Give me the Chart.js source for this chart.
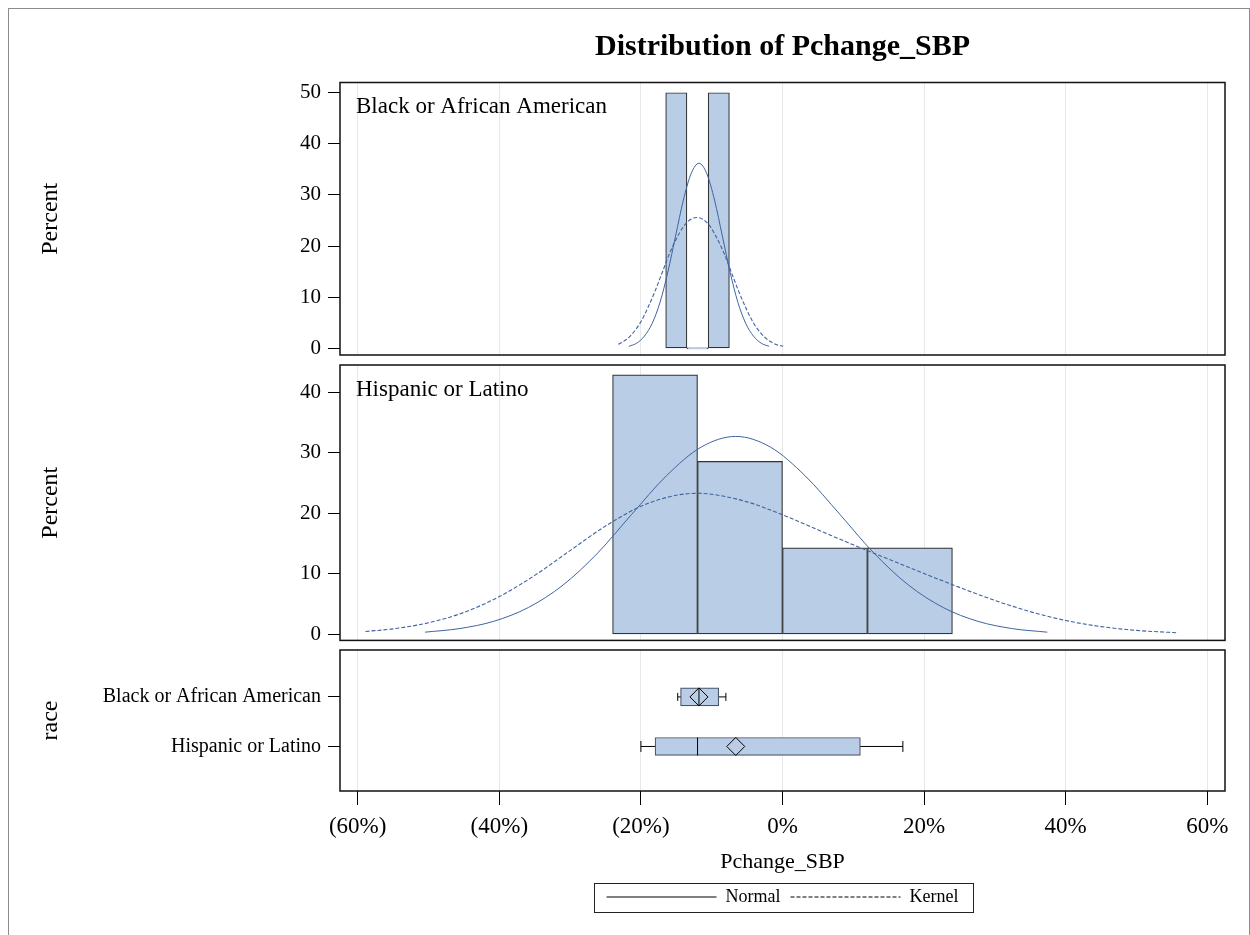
<!DOCTYPE html>
<html><head><meta charset="utf-8">
<script src="https://cdn.jsdelivr.net/npm/chart.js@4.4.1/dist/chart.umd.min.js"></script>
<style>
html,body{margin:0;padding:0;background:#fff;}
#page{position:relative;width:1250px;height:935px;overflow:hidden;background:#fff;}
#border{position:absolute;left:8px;top:8px;width:1240px;height:960px;border:1px solid #8c8c8c;}
canvas{position:absolute;left:0;}
</style></head><body>
<div id="page">
<div id="border"></div>
<canvas id="c1" width="1250" height="380" style="top:0px"></canvas>
<canvas id="c2" width="1250" height="320" style="top:340px"></canvas>
<canvas id="c3" width="1250" height="305" style="top:630px"></canvas>
</div>
<script>
// ---------- data ----------
const chartTitle = 'Distribution of Pchange_SBP';
const xAxisTitle = 'Pchange_SBP';
const yAxisTitle = 'Percent';
const boxAxisTitle = 'race';
const xTickValues = [-60, -40, -20, 0, 20, 40, 60];
const xTickLabels = ['(60%)', '(40%)', '(20%)', '0%', '20%', '40%', '60%'];
const raceCategories = ['Black or African American', 'Hispanic or Latino'];
const legendLabels = ['Normal', 'Kernel'];

// Black or African American histogram (bin width 3%)
const blackBinCenters = [-15, -12, -9];
const blackBinPercents = [50, 0, 50];
const blackYTicks = [0, 10, 20, 30, 40, 50];
const blackNormalX = [-21.7, -20.6, -19.5, -18.4, -17.3, -16.2, -15.1, -14.0, -12.9, -11.8, -10.7, -9.6, -8.5, -7.4, -6.3, -5.2, -4.1, -3.0, -1.9];
const blackNormalY = [0.4, 1.0, 2.4, 4.9, 9.0, 14.9, 22.0, 29.0, 34.2, 36.2, 34.2, 29.0, 22.0, 14.9, 9.0, 4.9, 2.4, 1.0, 0.4];
const blackKernelX = [-23.2, -22, -21, -20, -19, -18, -17, -16, -15, -14, -13, -12.1, -11.2, -10.2, -9.2, -8.2, -7.2, -6.2, -5.2, -4.2, -3.2, -2.2, -1.0, 0.1];
const blackKernelY = [0.8, 1.8, 3.2, 5.2, 8.0, 11.2, 14.8, 18.4, 21.4, 23.8, 25.2, 25.6, 25.2, 23.8, 21.4, 18.4, 14.8, 11.2, 8.0, 5.2, 3.2, 1.8, 0.8, 0.4];

// Hispanic or Latino histogram (bin width 12%)
const hispBinCenters = [-18, -6, 6, 18];
const hispBinPercents = [42.86, 28.57, 14.29, 14.29];
const hispYTicks = [0, 10, 20, 30, 40];
const hispNormalX = [-50.5, -45.7, -40.8, -35.9, -31.0, -26.1, -21.3, -16.4, -11.5, -6.6, -1.7, 3.2, 8.1, 12.9, 17.8, 22.7, 27.6, 32.5, 37.4];
const hispNormalY = [0.36, 0.94, 2.15, 4.43, 8.14, 13.44, 19.83, 26.19, 30.93, 32.7, 30.93, 26.19, 19.83, 13.44, 8.14, 4.43, 2.15, 0.94, 0.36];
const hispKernelX = [-58.9, -55, -50, -45, -40, -35, -30, -25, -20, -15, -12, -10, -5, 0, 5, 10, 15, 20, 25, 30, 35, 40, 45, 50, 55.8];
const hispKernelY = [0.48, 0.91, 1.91, 3.62, 6.24, 9.74, 13.84, 17.89, 21.15, 22.98, 23.3, 23.15, 21.89, 19.75, 17.27, 14.79, 12.40, 10.05, 7.76, 5.60, 3.75, 2.29, 1.28, 0.65, 0.26];

// Box plot statistics per race category
const boxMin    = [-14.8, -20.0];
const boxQ1     = [-14.4, -18.0];
const boxMedian = [-11.8, -12.0];
const boxMean   = [-11.8, -6.6];
const boxQ3     = [-9.0, 11.0];
const boxMax    = [-8.0, 17.0];

// ---------- styling / helpers ----------
Chart.defaults.font.family = "'Liberation Serif','Times New Roman',serif";
Chart.defaults.color = '#000';
Chart.defaults.animation = false;
const X_MIN = -62.5, X_MAX = 62.5;
const PLOT_LEFT = 340;
const BAR_FILL = '#b9cee6';
const CURVE = '#3f63a0';
const GRID = '#e8e8e8';

const framePlugin = {
  id: 'frame',
  afterDatasetsDraw(chart) {
    const {ctx, chartArea: a} = chart;
    ctx.save();
    ctx.strokeStyle = '#111';
    ctx.lineWidth = 1.5;
    ctx.strokeRect(a.left, a.top, a.right - a.left, a.bottom - a.top);
    ctx.restore();
  }
};
const panelLabelPlugin = {
  id: 'panelLabel',
  afterDraw(chart, args, opts) {
    if (!opts || !opts.text) return;
    const {ctx, chartArea: a} = chart;
    ctx.save();
    ctx.font = "23px 'Liberation Serif','Times New Roman',serif";
    ctx.fillStyle = '#000';
    ctx.textBaseline = 'alphabetic';
    ctx.textAlign = 'left';
    ctx.fillText(opts.text, a.left + 16, a.top + 30.5);
    ctx.restore();
  }
};
const legendFramePlugin = {
  id: 'legendFrame',
  afterDraw(chart) {
    const lg = chart.legend;
    if (!lg || !lg.legendHitBoxes || !lg.legendHitBoxes.length) return;
    const hb = lg.legendHitBoxes;
    const l = Math.min(...hb.map(h => h.left)) - 13;
    const r = Math.max(...hb.map(h => h.left + h.width)) + 14;
    const t = hb[0].top - 5;
    const b = hb[0].top + hb[0].height + 6;
    const ctx = chart.ctx;
    ctx.save();
    ctx.strokeStyle = '#222';
    ctx.lineWidth = 1;
    ctx.strokeRect(Math.round(l) + 0.5, Math.round(t) + 0.5, Math.round(r - l), Math.round(b - t));
    ctx.restore();
  }
};

function fixedTicks(values) { return ax => { ax.ticks = values.map(v => ({value: v})); }; }
function pts(xs, ys) { return xs.map((x, i) => ({x: x, y: ys[i]})); }

function hiddenX() {
  return {
    type: 'linear', min: X_MIN, max: X_MAX, offset: false,
    afterBuildTicks: fixedTicks(xTickValues),
    ticks: {display: false},
    grid: {color: GRID, drawTicks: false, offset: false},
    border: {display: false}
  };
}
function percentY(min, max, tickVals) {
  return {
    type: 'linear', min: min, max: max,
    afterBuildTicks: fixedTicks(tickVals),
    afterFit: ax => { ax.width = PLOT_LEFT; },
    ticks: {font: {size: 21}, padding: 7},
    grid: {drawOnChartArea: false, color: '#000', tickLength: 12, offset: false},
    border: {display: false},
    title: {display: true, text: yAxisTitle, font: {size: 24}, padding: {top: 36, bottom: 0}}
  };
}
function histDatasets(centers, percents, nx, ny, kx, ky) {
  return [
    {type: 'line', data: pts(nx, ny), borderColor: CURVE, borderWidth: 1, pointRadius: 0,
     cubicInterpolationMode: 'monotone', order: 1},
    {type: 'line', data: pts(kx, ky), borderColor: CURVE, borderWidth: 1.1, borderDash: [4, 2], pointRadius: 0,
     cubicInterpolationMode: 'monotone', order: 1},
    {type: 'bar', data: pts(centers, percents), backgroundColor: BAR_FILL, borderColor: '#333',
     borderWidth: 1.2, borderSkipped: false, barPercentage: 1, categoryPercentage: 1, minBarLength: 1, order: 2}
  ];
}

// ---------- panel 1 ----------
new Chart(document.getElementById('c1'), {
  type: 'bar',
  data: {datasets: histDatasets(blackBinCenters, blackBinPercents, blackNormalX, blackNormalY, blackKernelX, blackKernelY)},
  options: {
    responsive: false, devicePixelRatio: 1,
    layout: {padding: {top: 0, right: 25, bottom: 25, left: 0}},
    scales: {x: hiddenX(), y: percentY(-1.3, 52.0, blackYTicks)},
    plugins: {
      legend: {display: false}, tooltip: {enabled: false},
      title: {display: true, text: chartTitle, fullSize: false, font: {size: 30, weight: 'bold'},
              padding: {top: 29.5, bottom: 17}, color: '#000'},
      panelLabel: {text: raceCategories[0]}
    }
  },
  plugins: [framePlugin, panelLabelPlugin]
});

// ---------- panel 2 ----------
new Chart(document.getElementById('c2'), {
  type: 'bar',
  data: {datasets: histDatasets(hispBinCenters, hispBinPercents, hispNormalX, hispNormalY, hispKernelX, hispKernelY)},
  options: {
    responsive: false, devicePixelRatio: 1,
    layout: {padding: {top: 25, right: 25, bottom: 19, left: 0}},
    scales: {x: hiddenX(), y: percentY(-1.0, 44.5, hispYTicks)},
    plugins: {
      legend: {display: false}, tooltip: {enabled: false},
      panelLabel: {text: raceCategories[1]}
    }
  },
  plugins: [framePlugin, panelLabelPlugin]
});

// ---------- panel 3 (box plots) ----------
const catPos = raceCategories.map((c, i) => i + 1);
const boxData = catPos.map((p, i) => ({x: [boxQ1[i], boxQ3[i]], y: p}));
const capData = [];
catPos.forEach((p, i) => { capData.push({x: boxMin[i], y: p}); capData.push({x: boxMax[i], y: p}); });
const capRadius = [4, 5.5];

new Chart(document.getElementById('c3'), {
  type: 'bar',
  data: {
    datasets: [
      ...catPos.map((p, i) => ({type: 'line', data: [{x: boxMin[i], y: p}, {x: boxMax[i], y: p}],
        borderColor: '#000', borderWidth: 1, pointRadius: 0, order: 4})),
      {type: 'bar', data: boxData, backgroundColor: BAR_FILL, borderColor: '#4a5568', borderWidth: 1.2,
       borderSkipped: false, barThickness: 18, order: 3},
      {type: 'scatter', data: capData, pointStyle: 'line', rotation: 90,
       pointRadius: capData.map((d, k) => capRadius[Math.floor(k / 2)]), borderColor: '#000', borderWidth: 1, order: 2},
      {type: 'scatter', data: catPos.map((p, i) => ({x: boxMedian[i], y: p})), pointStyle: 'line', rotation: 90,
       pointRadius: 9, borderColor: '#000', borderWidth: 1, order: 1},
      {type: 'scatter', data: catPos.map((p, i) => ({x: boxMean[i], y: p})), pointStyle: 'rectRot',
       pointRadius: 9, backgroundColor: 'rgba(0,0,0,0)', borderColor: '#000', borderWidth: 1, order: 0}
    ]
  },
  options: {
    indexAxis: 'y',
    responsive: false, devicePixelRatio: 1,
    layout: {padding: {top: 20, right: 25, bottom: 19, left: 0}},
    scales: {
      x: {
        type: 'linear', min: X_MIN, max: X_MAX, offset: false,
        afterBuildTicks: fixedTicks(xTickValues),
        ticks: {callback: (v, i) => xTickLabels[i], font: {size: 23}, padding: 8, maxRotation: 0, autoSkip: false},
        grid: {color: GRID, tickColor: '#000', tickLength: 14, offset: false},
        border: {display: false},
        title: {display: true, text: xAxisTitle, font: {size: 22}, padding: {top: 0, bottom: 3}}
      },
      y: {
        type: 'linear', reverse: true, min: 0.053, max: 2.899, offset: false,
        afterBuildTicks: fixedTicks(catPos),
        afterFit: ax => { ax.width = PLOT_LEFT; },
        ticks: {callback: (v, i) => raceCategories[i], font: {size: 20}, padding: 7},
        grid: {drawOnChartArea: false, color: '#000', tickLength: 12, offset: false},
        border: {display: false},
        title: {display: true, text: boxAxisTitle, font: {size: 24}, padding: {top: 36, bottom: 0}}
      }
    },
    plugins: {
      tooltip: {enabled: false},
      legend: {
        display: true, position: 'bottom', fullSize: false,
        labels: {
          usePointStyle: true, pointStyleWidth: 110, font: {size: 18}, padding: 10, color: '#000',
          generateLabels: () => legendLabels.map((t, i) => ({
            text: t, strokeStyle: '#000', fillStyle: 'rgba(0,0,0,0)', lineWidth: 1,
            lineDash: i === 0 ? [] : [4, 2], pointStyle: 'line', hidden: false, datasetIndex: i
          }))
        }
      }
    }
  },
  plugins: [framePlugin, legendFramePlugin]
});
</script>
</body></html>
